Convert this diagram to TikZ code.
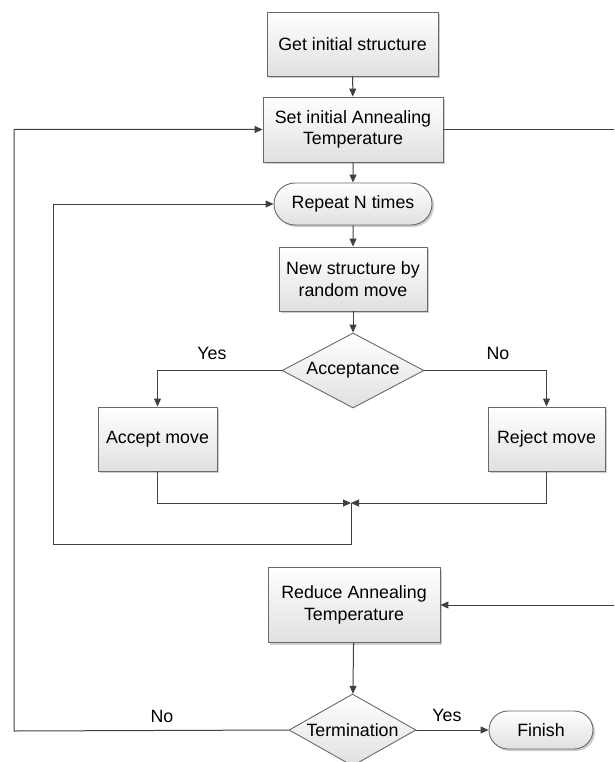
\documentclass[tikz,border=0pt]{standalone}
\usepackage{fontspec}
\setmainfont{Liberation Sans}
\usetikzlibrary{arrows.meta,shapes.geometric,shapes.misc,shadows}
\definecolor{flowline}{RGB}{64,64,64}
\definecolor{flowedge}{RGB}{105,105,105}
\definecolor{flowfill}{RGB}{224,224,224}
\definecolor{flowshadow}{RGB}{205,205,205}

\begin{document}
\begin{tikzpicture}[x=1pt, y=-1pt,
  font=\fontsize{17.8}{21.4}\selectfont,
  box/.style={rectangle, draw=flowedge, line width=0.9pt, top color=white, bottom color=flowfill,
    align=center, inner sep=0pt,
    drop shadow={shadow xshift=2pt, shadow yshift=-2pt, fill=flowshadow, opacity=1}},
  pill/.style={rounded rectangle, draw=flowedge, line width=0.9pt, top color=white, bottom color=flowfill,
    inner sep=0pt,
    drop shadow={shadow xshift=2pt, shadow yshift=-2pt, fill=flowshadow, opacity=1}},
  decision/.style={diamond, draw=flowedge, line width=0.9pt, top color=white, bottom color=flowfill,
    inner sep=0pt},
  flow/.style={draw=flowline, line width=1pt, -{Triangle[length=8pt, width=7pt]}}]
\useasboundingbox (0,0) rectangle (614,762);
\clip (0,0) rectangle (614,762);

% Outer loop
\node[box, minimum width=171pt, minimum height=64pt] (getinit) at (352.5,44) {Get initial structure};
\node[box, minimum width=180pt, minimum height=65pt] (setinit) at (353,129.5) {Set initial Annealing\\Temperature};

% Inner loop
\node[pill, minimum width=158pt, minimum height=42pt] (repeat) at (353,204) {Repeat N times};
\node[box, minimum width=148pt, minimum height=64pt] (newstruct) at (353,279) {New structure by\\random move};
\node[decision, minimum width=142pt, minimum height=75pt, aspect=1.9] (accept) at (353,370.5) {Acceptance};
\node[box, minimum width=119pt, minimum height=64pt] (acceptmove) at (157.5,439) {Accept move};
\node[box, minimum width=117pt, minimum height=64pt] (rejectmove) at (546.5,439) {Reject move};
\coordinate (merge) at (351,503);
\coordinate (innerleft) at (53,544);

% Cooling and stop
\node[box, minimum width=172pt, minimum height=75pt] (reduce) at (354,605) {Reduce Annealing\\Temperature};
\node[decision, minimum width=127pt, minimum height=72pt, aspect=1.76] (term) at (352.5,730) {Termination};
\node[pill, minimum width=104pt, minimum height=38pt] (finish) at (541,730) {Finish};
\coordinate (outerleft) at (14,731);
\coordinate (rightedge) at (620,129.5);

% Labels
\node (yesacc) at (212,353) {Yes};
\node (noacc) at (498,353) {No};
\node (noterm) at (162,716) {No};
\node (yesterm) at (447,715) {Yes};

% Connectors
\draw[flow] (getinit) -- (setinit);
\draw[flow] (setinit) -- (repeat);
\draw[flow] (repeat) -- (newstruct);
\draw[flow] (newstruct) -- (accept);
\draw[flow] (accept.west) -| (acceptmove);
\draw[flow] (accept.east) -| (rejectmove);
\draw[flow] (acceptmove.south) |- (merge);
\draw[flow] (rejectmove.south) |- (merge);
\draw[flow] (merge) |- (innerleft) |- (repeat.west);
\draw[flow] (setinit.east) -- (rightedge) |- (reduce.east);
\draw[flow] (reduce) -- (term);
\draw[flow] (term.east) -- (finish);
\draw[flow] (term.west) -- (outerleft) |- (setinit.west);
\end{tikzpicture}
\end{document}
